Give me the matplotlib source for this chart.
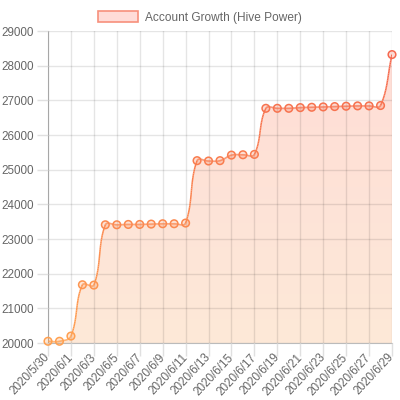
import numpy as np
import matplotlib.pyplot as plt
from matplotlib.path import Path
from matplotlib.patches import PathPatch, Patch
from matplotlib.collections import LineCollection
from matplotlib.colors import LinearSegmentedColormap
from datetime import date, timedelta

plt.rcParams['font.family'] = ['Liberation Sans', 'DejaVu Sans']

start = date(2020, 5, 30)
dates = [start + timedelta(days=i) for i in range(31)]
labels = [f"{d.year}/{d.month}/{d.day}" for d in dates]
hive_power = [20050, 20050, 20200, 21680, 21670, 23410, 23410, 23420, 23420,
              23430, 23440, 23440, 23460, 25260, 25250, 25260, 25420, 25430,
              25440, 26770, 26770, 26770, 26790, 26800, 26810, 26820, 26830,
              26840, 26840, 26850, 28320]
legend_label = "Account Growth (Hive Power)"

x = np.arange(len(hive_power))
y = np.array(hive_power, dtype=float)
ymin, ymax = 20000, 29000
xmin, xmax = 0, len(x) - 1

fig = plt.figure(figsize=(4, 4), dpi=100)
ax = fig.add_axes([48 / 400, 57 / 400, 344 / 400, 312 / 400])
ax.set_xlim(xmin, xmax)
ax.set_ylim(ymin, ymax)

# chart.js-like bezier control points, computed in pixel space
W, H = 344.0, 312.0
px = (x - xmin) / (xmax - xmin) * W
py = (y - ymin) / (ymax - ymin) * H
t = 0.4
c1, c2 = [], []
for i in range(len(x)):
    p0 = i - 1 if i > 0 else i
    p2 = i + 1 if i < len(x) - 1 else i
    d01 = np.hypot(px[i] - px[p0], py[i] - py[p0])
    d12 = np.hypot(px[p2] - px[i], py[p2] - py[i])
    tot = d01 + d12 if d01 + d12 > 0 else 1
    fa, fb = t * d01 / tot, t * d12 / tot
    dx, dy = px[p2] - px[p0], py[p2] - py[p0]
    c1.append((px[i] - fa * dx, min(max(py[i] - fa * dy, 0), H)))
    c2.append((px[i] + fb * dx, min(max(py[i] + fb * dy, 0), H)))

def to_data(p):
    return (p[0] / W * (xmax - xmin) + xmin, p[1] / H * (ymax - ymin) + ymin)

verts = [(x[0], y[0])]
codes = [Path.MOVETO]
segs = []
for i in range(len(x) - 1):
    a = np.array([px[i], py[i]])
    b = np.array(c2[i])
    c = np.array(c1[i + 1])
    d = np.array([px[i + 1], py[i + 1]])
    verts += [to_data(b), to_data(c), (x[i + 1], y[i + 1])]
    codes += [Path.CURVE4] * 3
    s = np.linspace(0, 1, 30)[:, None]
    pts = ((1 - s) ** 3) * a + 3 * ((1 - s) ** 2) * s * b + 3 * (1 - s) * s ** 2 * c + s ** 3 * d
    segs.append(pts)

curve = np.vstack(segs)
cx = curve[:, 0] / W * (xmax - xmin) + xmin
cy = curve[:, 1] / H * (ymax - ymin) + ymin

# gradient fill under the curve
fill_verts = verts + [(x[-1], ymin), (x[0], ymin), (x[0], y[0])]
fill_codes = codes + [Path.LINETO, Path.LINETO, Path.CLOSEPOLY]
fill_patch = PathPatch(Path(fill_verts, fill_codes), facecolor='none', edgecolor='none')
ax.add_patch(fill_patch)
fill_cmap = LinearSegmentedColormap.from_list('f', ['#fde9d8', '#ffdcd6'])
grad = np.linspace(0, 1, 256)[:, None]
im = ax.imshow(grad, cmap=fill_cmap, extent=[xmin, xmax, ymin, ymax],
               origin='lower', aspect='auto', zorder=1)
im.set_clip_path(fill_patch)

# grid
ax.set_xticks(x[::2])
ax.set_xticklabels(labels[::2], rotation=47, ha='right', va='center',
                   rotation_mode='anchor')
ax.set_yticks(np.arange(ymin, ymax + 1, 1000))
ax.grid(True, color='#000000', alpha=0.1, linewidth=1, zorder=2)
ax.set_axisbelow(False)
for s_ in ['top', 'right']:
    ax.spines[s_].set_visible(False)
ax.spines['left'].set_color('#bbbbbb')
ax.spines['bottom'].set_color('#bbbbbb')
ax.tick_params(axis='both', colors='#e0e0e0', labelcolor='#666666',
               width=1, labelsize=8.4)
ax.tick_params(axis='y', length=8, pad=2)
ax.tick_params(axis='x', length=9, pad=0)

# gradient line
line_cmap = LinearSegmentedColormap.from_list('l', ['#ffa050', '#f5644f'])
pts = np.column_stack([cx, cy]).reshape(-1, 1, 2)
lc = LineCollection(np.concatenate([pts[:-1], pts[1:]], axis=1),
                    cmap=line_cmap, norm=plt.Normalize(ymin, ymax), linewidth=1.1, zorder=3)
lc.set_array((cy[:-1] + cy[1:]) / 2)
ax.add_collection(lc)

cols = line_cmap((y - ymin) / (ymax - ymin))
face = cols.copy()
face[:, 3] = 0.25
ax.scatter(x, y, s=30, facecolors=face, edgecolors=cols, linewidths=1.1, zorder=4,
           clip_on=False)

leg = fig.legend(handles=[Patch(facecolor='#ffdcd8', edgecolor='#f7907c', linewidth=1.2)],
                 labels=[legend_label], loc='upper center', bbox_to_anchor=(0.5, 1.0),
                 frameon=False, fontsize=8.6, handlelength=3.4, handleheight=1.1,
                 handletextpad=0.6)
for txt in leg.get_texts():
    txt.set_color('#666666')

fig.savefig('out.png', dpi=100)
